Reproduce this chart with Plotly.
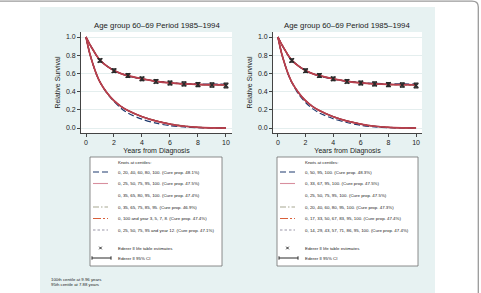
import plotly.graph_objects as go

W, H = 481, 293
FONT = "Liberation Sans, Arial, sans-serif"
TXT = "#222222"

# ---------------- data ----------------
t_grid = [0, 0.25, 0.5, 0.75, 1, 1.5, 2, 2.5, 3, 4, 5, 6, 7, 8, 9, 10]

# Left panel: upper = relative survival, lower = survival of uncured
L1_up = [1.0, 0.925, 0.86, 0.797, 0.746, 0.681, 0.633, 0.598, 0.573, 0.538, 0.513, 0.497, 0.488, 0.484, 0.482, 0.481]
L1_lo = [1.0, 0.83, 0.70, 0.59, 0.505, 0.382, 0.292, 0.218, 0.163, 0.097, 0.053, 0.025, 0.011, 0.004, 0.001, 0.0]
L2_up = [1.0, 0.925, 0.86, 0.796, 0.745, 0.68, 0.632, 0.598, 0.575, 0.540, 0.513, 0.495, 0.485, 0.479, 0.476, 0.475]
L2_lo = [1.0, 0.83, 0.70, 0.59, 0.505, 0.387, 0.300, 0.238, 0.192, 0.124, 0.076, 0.042, 0.019, 0.007, 0.002, 0.0]
L3_up = [1.0, 0.924, 0.859, 0.795, 0.744, 0.679, 0.631, 0.597, 0.574, 0.540, 0.514, 0.496, 0.485, 0.478, 0.475, 0.474]
L3_lo = [1.0, 0.829, 0.699, 0.589, 0.504, 0.386, 0.299, 0.237, 0.191, 0.124, 0.077, 0.043, 0.020, 0.007, 0.002, 0.0]
L4_up = [1.0, 0.924, 0.858, 0.794, 0.744, 0.679, 0.631, 0.597, 0.574, 0.540, 0.513, 0.494, 0.482, 0.475, 0.471, 0.469]
L4_lo = [1.0, 0.828, 0.698, 0.588, 0.503, 0.385, 0.298, 0.236, 0.190, 0.125, 0.079, 0.046, 0.024, 0.010, 0.003, 0.0]
L5_up = [1.0, 0.925, 0.86, 0.796, 0.745, 0.68, 0.632, 0.598, 0.575, 0.541, 0.514, 0.496, 0.485, 0.478, 0.475, 0.474]
L5_lo = [1.0, 0.83, 0.70, 0.59, 0.505, 0.386, 0.300, 0.238, 0.193, 0.126, 0.078, 0.043, 0.020, 0.007, 0.002, 0.0]
L6_up = [1.0, 0.925, 0.86, 0.796, 0.745, 0.68, 0.632, 0.598, 0.575, 0.541, 0.515, 0.497, 0.486, 0.479, 0.475, 0.473]
L6_lo = [1.0, 0.83, 0.70, 0.59, 0.505, 0.387, 0.301, 0.239, 0.193, 0.126, 0.079, 0.045, 0.022, 0.009, 0.003, 0.0]

# Right panel
R1_up = [1.0, 0.925, 0.858, 0.795, 0.745, 0.679, 0.630, 0.596, 0.572, 0.538, 0.514, 0.499, 0.490, 0.486, 0.484, 0.483]
R1_lo = [1.0, 0.83, 0.70, 0.585, 0.50, 0.37, 0.28, 0.213, 0.165, 0.102, 0.060, 0.030, 0.012, 0.003, 0.0, 0.0]
R2_up = [1.0, 0.925, 0.86, 0.796, 0.745, 0.68, 0.632, 0.598, 0.575, 0.540, 0.513, 0.495, 0.485, 0.479, 0.476, 0.475]
R2_lo = [1.0, 0.83, 0.70, 0.59, 0.505, 0.387, 0.300, 0.238, 0.192, 0.124, 0.076, 0.042, 0.019, 0.007, 0.002, 0.0]
R3_up = [1.0, 0.925, 0.86, 0.796, 0.745, 0.68, 0.632, 0.598, 0.575, 0.540, 0.514, 0.496, 0.485, 0.479, 0.476, 0.475]
R3_lo = [1.0, 0.83, 0.70, 0.59, 0.505, 0.386, 0.299, 0.237, 0.191, 0.124, 0.077, 0.043, 0.020, 0.007, 0.002, 0.0]
R4_up = [1.0, 0.925, 0.86, 0.796, 0.745, 0.68, 0.632, 0.598, 0.575, 0.540, 0.513, 0.495, 0.484, 0.477, 0.474, 0.473]
R4_lo = [1.0, 0.83, 0.70, 0.59, 0.505, 0.386, 0.300, 0.238, 0.192, 0.125, 0.077, 0.043, 0.020, 0.007, 0.002, 0.0]
R5_up = [1.0, 0.925, 0.86, 0.796, 0.745, 0.68, 0.632, 0.598, 0.575, 0.540, 0.513, 0.495, 0.485, 0.478, 0.475, 0.474]
R5_lo = [1.0, 0.83, 0.70, 0.59, 0.505, 0.387, 0.300, 0.238, 0.192, 0.124, 0.077, 0.043, 0.020, 0.007, 0.002, 0.0]
R6_up = [1.0, 0.925, 0.86, 0.796, 0.745, 0.68, 0.632, 0.598, 0.575, 0.540, 0.513, 0.495, 0.485, 0.478, 0.475, 0.474]
R6_lo = [1.0, 0.83, 0.70, 0.59, 0.505, 0.387, 0.301, 0.239, 0.193, 0.125, 0.078, 0.044, 0.021, 0.008, 0.002, 0.0]

# Ederer II life-table estimates and 95% CI half-widths
ederer_t = [1, 2, 3, 4, 5, 6, 7, 8, 9, 10]
ederer_rs = [0.742, 0.630, 0.577, 0.540, 0.512, 0.494, 0.484, 0.477, 0.472, 0.468]
ederer_ci = [0.019, 0.020, 0.020, 0.020, 0.020, 0.021, 0.022, 0.023, 0.024, 0.026]

title_text = "Age group 60\u201369 Period 1985\u20131994"
x_ticks = [0, 2, 4, 6, 8, 10]
y_ticks = [0.0, 0.2, 0.4, 0.6, 0.8, 1.0]

left_labels = [
    "0, 20, 40, 60, 80, 100. (Cure prop. 48.1%)",
    "0, 25, 50, 75, 95, 100. (Cure prop. 47.5%)",
    "0, 35, 65, 80, 95, 100. (Cure prop. 47.4%)",
    "0, 35, 65, 75, 85, 95. (Cure prop. 46.9%)",
    "0, 100 and year 3, 5, 7, 8. (Cure prop. 47.4%)",
    "0, 25, 50, 75, 95 and year 12. (Cure prop. 47.1%)",
]
right_labels = [
    "0, 50, 95, 100. (Cure prop. 48.3%)",
    "0, 33, 67, 95, 100. (Cure prop. 47.5%)",
    "0, 25, 50, 75, 95, 100. (Cure prop. 47.5%)",
    "0, 20, 40, 60, 80, 95, 100. (Cure prop. 47.3%)",
    "0, 17, 33, 50, 67, 83, 95, 100. (Cure prop. 47.4%)",
    "0, 14, 29, 43, 57, 71, 86, 95, 100. (Cure prop. 47.4%)",
]
footnote = ["100th centile at 9.96 years", "95th centile at 7.88 years"]

# ---------------- styles ----------------
styles = [
    dict(color="#1f3a6e", dash="6px,3px", width=1.2),            # navy long dash
    dict(color="#b8404e", dash="solid", width=1.7),              # pink/red solid
    dict(color="#8e2a36", dash="solid", width=1.3),              # maroon solid (no legend sample)
    dict(color="#a7a892", dash="6px,2px,1.5px,2px", width=1.1),  # gray-green dash-dot
    dict(color="#d9603a", dash="8px,2px,2px,2px", width=1.1),    # orange
    dict(color="#9a96a8", dash="2.5px,2px", width=1.1),          # gray short dash
]
draw_order = [5, 3, 4, 0, 2, 1]

def px(x):
    return x / W

def py(y):
    return 1 - y / H

fig = go.Figure()

panels = [
    ("x", "y", [L1_up, L2_up, L3_up, L4_up, L5_up, L6_up], [L1_lo, L2_lo, L3_lo, L4_lo, L5_lo, L6_lo]),
    ("x2", "y2", [R1_up, R2_up, R3_up, R4_up, R5_up, R6_up], [R1_lo, R2_lo, R3_lo, R4_lo, R5_lo, R6_lo]),
]
for xa, ya, ups, los in panels:
    for i in draw_order:
        for series in (los[i], ups[i]):
            fig.add_trace(go.Scatter(
                x=t_grid, y=series, mode="lines", xaxis=xa, yaxis=ya,
                line=dict(color=styles[i]["color"], dash=styles[i]["dash"],
                          width=styles[i]["width"], shape="spline", smoothing=0.8),
                showlegend=False, hoverinfo="skip"))
    fig.add_trace(go.Scatter(
        x=ederer_t, y=ederer_rs, mode="markers", xaxis=xa, yaxis=ya,
        marker=dict(symbol="x-thin", size=4.5, color="#2a2a2a", line=dict(width=1.4, color="#2a2a2a")),
        error_y=dict(type="data", array=ederer_ci, visible=True, thickness=1.2, width=2.3, color="#2a2a2a"),
        showlegend=False, hoverinfo="skip"))

# ---------------- axes ----------------
ax_common = dict(showline=True, linecolor="#444", linewidth=0.8, ticks="outside", ticklen=3,
                 tickcolor="#444", tickwidth=0.8, zeroline=False,
                 tickfont=dict(size=7, color=TXT, family=FONT))
xr = [-0.357, 10.43]
yr = [-0.055, 1.055]
left_dom = [px(81), px(232)]
right_dom = [px(273), px(422)]
ydom = [py(133), py(32)]

fig.update_layout(
    xaxis=dict(domain=left_dom, range=xr, tickvals=x_ticks, showgrid=False, anchor="y",
               title=dict(text="Years from Diagnosis", font=dict(size=7, color=TXT, family=FONT), standoff=2), **ax_common),
    yaxis=dict(domain=ydom, range=yr, tickvals=y_ticks, tickformat=".1f", showgrid=True,
               gridcolor="#e4eeee", gridwidth=0.8, anchor="x",
               title=dict(text="Relative Survival", font=dict(size=7, color=TXT, family=FONT), standoff=4), **ax_common),
    xaxis2=dict(domain=right_dom, range=xr, tickvals=x_ticks, showgrid=False, anchor="y2",
                title=dict(text="Years from Diagnosis", font=dict(size=7, color=TXT, family=FONT), standoff=2), **ax_common),
    yaxis2=dict(domain=ydom, range=yr, tickvals=y_ticks, tickformat=".1f", showgrid=True,
                gridcolor="#e4eeee", gridwidth=0.8, anchor="x2",
                title=dict(text="Relative Survival", font=dict(size=7, color=TXT, family=FONT), standoff=4), **ax_common),
)

# ---------------- background / frame ----------------
shapes = []
shapes.append(dict(type="rect", xref="paper", yref="paper", x0=px(40), x1=px(435), y0=py(293), y1=py(7),
                   fillcolor="#e7f2f2", line=dict(width=0), layer="below"))
for x0, x1 in ((81, 232), (273, 422)):
    shapes.append(dict(type="rect", xref="paper", yref="paper", x0=px(x0), x1=px(x1), y0=py(133), y1=py(32),
                       fillcolor="#ffffff", line=dict(width=0), layer="below"))
frame_path = "M {:.5f},{:.5f} L {:.5f},{:.5f} Q {:.5f},{:.5f} {:.5f},{:.5f} L {:.5f},{:.5f}".format(
    px(0), py(1.2), px(472), py(1.2), px(478.3), py(1.2), px(478.3), py(7), px(478.3), py(293))
shapes.append(dict(type="path", xref="paper", yref="paper", path=frame_path,
                   line=dict(color="#9a9a9a", width=1.3), layer="above"))

annotations = []
# titles
for cx in (156.5, 347):
    annotations.append(dict(text=title_text, x=px(cx), y=py(25), xref="paper", yref="paper",
                            xanchor="center", yanchor="middle", showarrow=False,
                            font=dict(size=7.8, color=TXT, family=FONT)))

# legends
row_y = [172, 183.5, 195, 207, 218.5, 230]
for (bx0, bx1, sx0, sx1, tx, labels) in ((90, 222, 93, 108, 116, left_labels),
                                          (277, 418, 280, 295, 303, right_labels)):
    shapes.append(dict(type="rect", xref="paper", yref="paper", x0=px(bx0), x1=px(bx1),
                       y0=py(266), y1=py(157), fillcolor="#ffffff",
                       line=dict(color="#6f6f6f", width=0.8), layer="above"))
    annotations.append(dict(text="Knots at centiles:", x=px(tx), y=py(162.5), xref="paper", yref="paper",
                            xanchor="left", yanchor="middle", showarrow=False,
                            font=dict(size=4.4, color=TXT, family=FONT)))
    for i, lab in enumerate(labels):
        st = styles[i]
        if i != 2:
            col = "#d88f9e" if i == 1 else st["color"]
            shapes.append(dict(type="line", xref="paper", yref="paper", x0=px(sx0), x1=px(sx1),
                               y0=py(row_y[i]), y1=py(row_y[i]),
                               line=dict(color=col, dash=st["dash"], width=1.1), layer="above"))
        annotations.append(dict(text=lab, x=px(tx), y=py(row_y[i]), xref="paper", yref="paper",
                                xanchor="left", yanchor="middle", showarrow=False,
                                font=dict(size=4.4, color=TXT, family=FONT)))
    # ederer marker sample
    mx = (sx0 + sx1) / 2
    for dy in (-1.3, 1.3):
        shapes.append(dict(type="line", xref="paper", yref="paper", x0=px(mx - 1.3), x1=px(mx + 1.3),
                           y0=py(248 + dy), y1=py(248 - dy), line=dict(color="#2a2a2a", width=1), layer="above"))
    annotations.append(dict(text="Ederer II life table estimates", x=px(tx), y=py(248), xref="paper", yref="paper",
                            xanchor="left", yanchor="middle", showarrow=False,
                            font=dict(size=4.4, color=TXT, family=FONT)))
    # CI sample
    shapes.append(dict(type="line", xref="paper", yref="paper", x0=px(sx0 - 1), x1=px(sx1 + 3),
                       y0=py(258), y1=py(258), line=dict(color="#2a2a2a", width=1), layer="above"))
    for xx in (sx0 - 1, sx1 + 3):
        shapes.append(dict(type="line", xref="paper", yref="paper", x0=px(xx), x1=px(xx),
                           y0=py(256.3), y1=py(259.7), line=dict(color="#2a2a2a", width=1), layer="above"))
    annotations.append(dict(text="Ederer II 95% CI", x=px(tx), y=py(258), xref="paper", yref="paper",
                            xanchor="left", yanchor="middle", showarrow=False,
                            font=dict(size=4.4, color=TXT, family=FONT)))

# footnote
for k, line in enumerate(footnote):
    annotations.append(dict(text=line, x=px(48.5), y=py(279.5 + 5 * k), xref="paper", yref="paper",
                            xanchor="left", yanchor="middle", showarrow=False,
                            font=dict(size=4.3, color=TXT, family=FONT)))

fig.update_layout(
    width=W, height=H, margin=dict(l=0, r=0, t=0, b=0),
    paper_bgcolor="#ffffff", plot_bgcolor="#ffffff",
    shapes=shapes, annotations=annotations, showlegend=False,
    font=dict(family=FONT, color=TXT),
)

fig.write_html("out.html")
